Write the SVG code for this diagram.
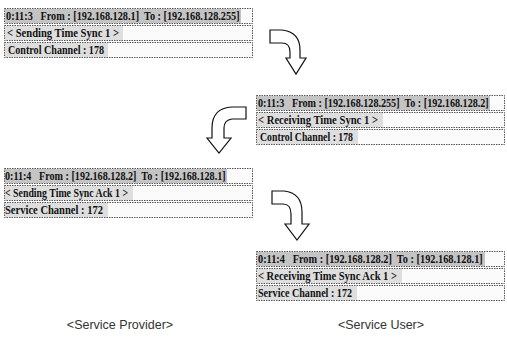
<svg xmlns="http://www.w3.org/2000/svg" width="507" height="337" viewBox="0 0 507 337">
<defs>
<style>
.box{fill:#fbfbfb;stroke:#555;stroke-width:1;stroke-dasharray:1.5 1}
.hl{fill:#c4c4c4}
.hl2{fill:#dedede}
.t{font-family:"Liberation Serif",serif;font-weight:bold;font-size:11.5px;fill:#111}
.h{font-family:"Liberation Serif",serif;font-weight:bold;font-size:12px;fill:#111;white-space:pre}
.lbl{font-family:"Liberation Sans",Arial,sans-serif;font-size:12.5px;fill:#333}
.arr{fill:#fff;stroke:#111;stroke-width:1.2;stroke-linejoin:miter}
</style>
</defs>
<rect width="507" height="337" fill="#fff"/>

<g id="msg1">
<rect class="box" x="4.5" y="8.5" width="248" height="15"/>
<rect class="hl" x="5" y="9" width="236" height="14"/>
<text class="h" transform="translate(6,20) scale(0.855,1)" xml:space="preserve">0:11:3   From : [192.168.128.1]  To : [192.168.128.255]</text>
<rect class="box" x="4.5" y="25.5" width="248" height="15"/>
<rect class="hl2" x="5" y="26" width="118" height="14"/>
<text class="t" x="7" y="37" textLength="112" lengthAdjust="spacingAndGlyphs">&lt; Sending Time Sync 1 &gt;</text>
<rect class="box" x="4.5" y="42.5" width="248" height="15"/>
<rect class="hl2" x="5" y="43" width="103" height="14"/>
<text class="t" x="8" y="54" textLength="96" lengthAdjust="spacingAndGlyphs">Control Channel : 178</text>
</g>

<g id="msg2">
<rect class="box" x="256.5" y="95.5" width="248" height="15"/>
<rect class="hl" x="257" y="96" width="233" height="14"/>
<text class="h" transform="translate(258,107) scale(0.845,1)" xml:space="preserve">0:11:3   From : [192.168.128.255]  To : [192.168.128.2]</text>
<rect class="box" x="256.5" y="112.5" width="248" height="15"/>
<rect class="hl2" x="257" y="113" width="126" height="14"/>
<text class="t" x="258" y="124" textLength="120" lengthAdjust="spacingAndGlyphs">&lt; Receiving Time Sync 1 &gt;</text>
<rect class="box" x="256.5" y="129.5" width="248" height="15"/>
<rect class="hl2" x="257" y="130" width="101" height="14"/>
<text class="t" x="260" y="141" textLength="93" lengthAdjust="spacingAndGlyphs">Control Channel : 178</text>
</g>

<g id="msg3">
<rect class="box" x="4.5" y="168.5" width="248" height="15"/>
<rect class="hl" x="5" y="169" width="222" height="14"/>
<text class="h" transform="translate(5,180) scale(0.845,1)" xml:space="preserve">0:11:4   From : [192.168.128.2]  To : [192.168.128.1]</text>
<rect class="box" x="4.5" y="185.5" width="248" height="15"/>
<rect class="hl2" x="5" y="186" width="128" height="14"/>
<text class="t" x="5" y="197" textLength="123" lengthAdjust="spacingAndGlyphs">&lt; Sending Time Sync Ack 1 &gt;</text>
<rect class="box" x="4.5" y="202.5" width="248" height="15"/>
<rect class="hl2" x="5" y="203" width="103" height="14"/>
<text class="t" x="5" y="214" textLength="98" lengthAdjust="spacingAndGlyphs">Service Channel : 172</text>
</g>

<g id="msg4">
<rect class="box" x="256.5" y="251.5" width="248" height="15"/>
<rect class="hl" x="257" y="252" width="228" height="14"/>
<text class="h" transform="translate(258,263) scale(0.86,1)" xml:space="preserve">0:11:4   From : [192.168.128.2]  To : [192.168.128.1]</text>
<rect class="box" x="256.5" y="268.5" width="248" height="15"/>
<rect class="hl2" x="257" y="269" width="145" height="14"/>
<text class="t" x="258" y="280" textLength="139" lengthAdjust="spacingAndGlyphs">&lt; Receiving Time Sync Ack 1 &gt;</text>
<rect class="box" x="256.5" y="285.5" width="248" height="15"/>
<rect class="hl2" x="257" y="286" width="100" height="14"/>
<text class="t" x="258" y="297" textLength="94" lengthAdjust="spacingAndGlyphs">Service Channel : 172</text>
</g>

<g id="connectors">
<path class="arr" d="M270,30 L282,30 Q300,32 300,50 L300,58 L306,58 L296,74 L286,58 L290,58 L290,52 Q290,43 282,43 L270,43 Z"/>
<path class="arr" d="M246,107 L232,107 Q212,108 212,128 L212,138 L207,138 L219,153 L231,138 L224,138 L224,128 Q224,120 232,119 L246,119 Z"/>
<path class="arr" d="M272,191 L284,191 Q302,193 302,212 L302,224 L309,224 L297,240 L285,224 L291,224 L291,214 Q291,204 283,204 L272,204 Z"/>
</g>

<g id="labels">
<text class="lbl" x="120" y="329" text-anchor="middle">&lt;Service Provider&gt;</text>
<text class="lbl" x="381" y="329" text-anchor="middle">&lt;Service User&gt;</text>
</g>
</svg>
